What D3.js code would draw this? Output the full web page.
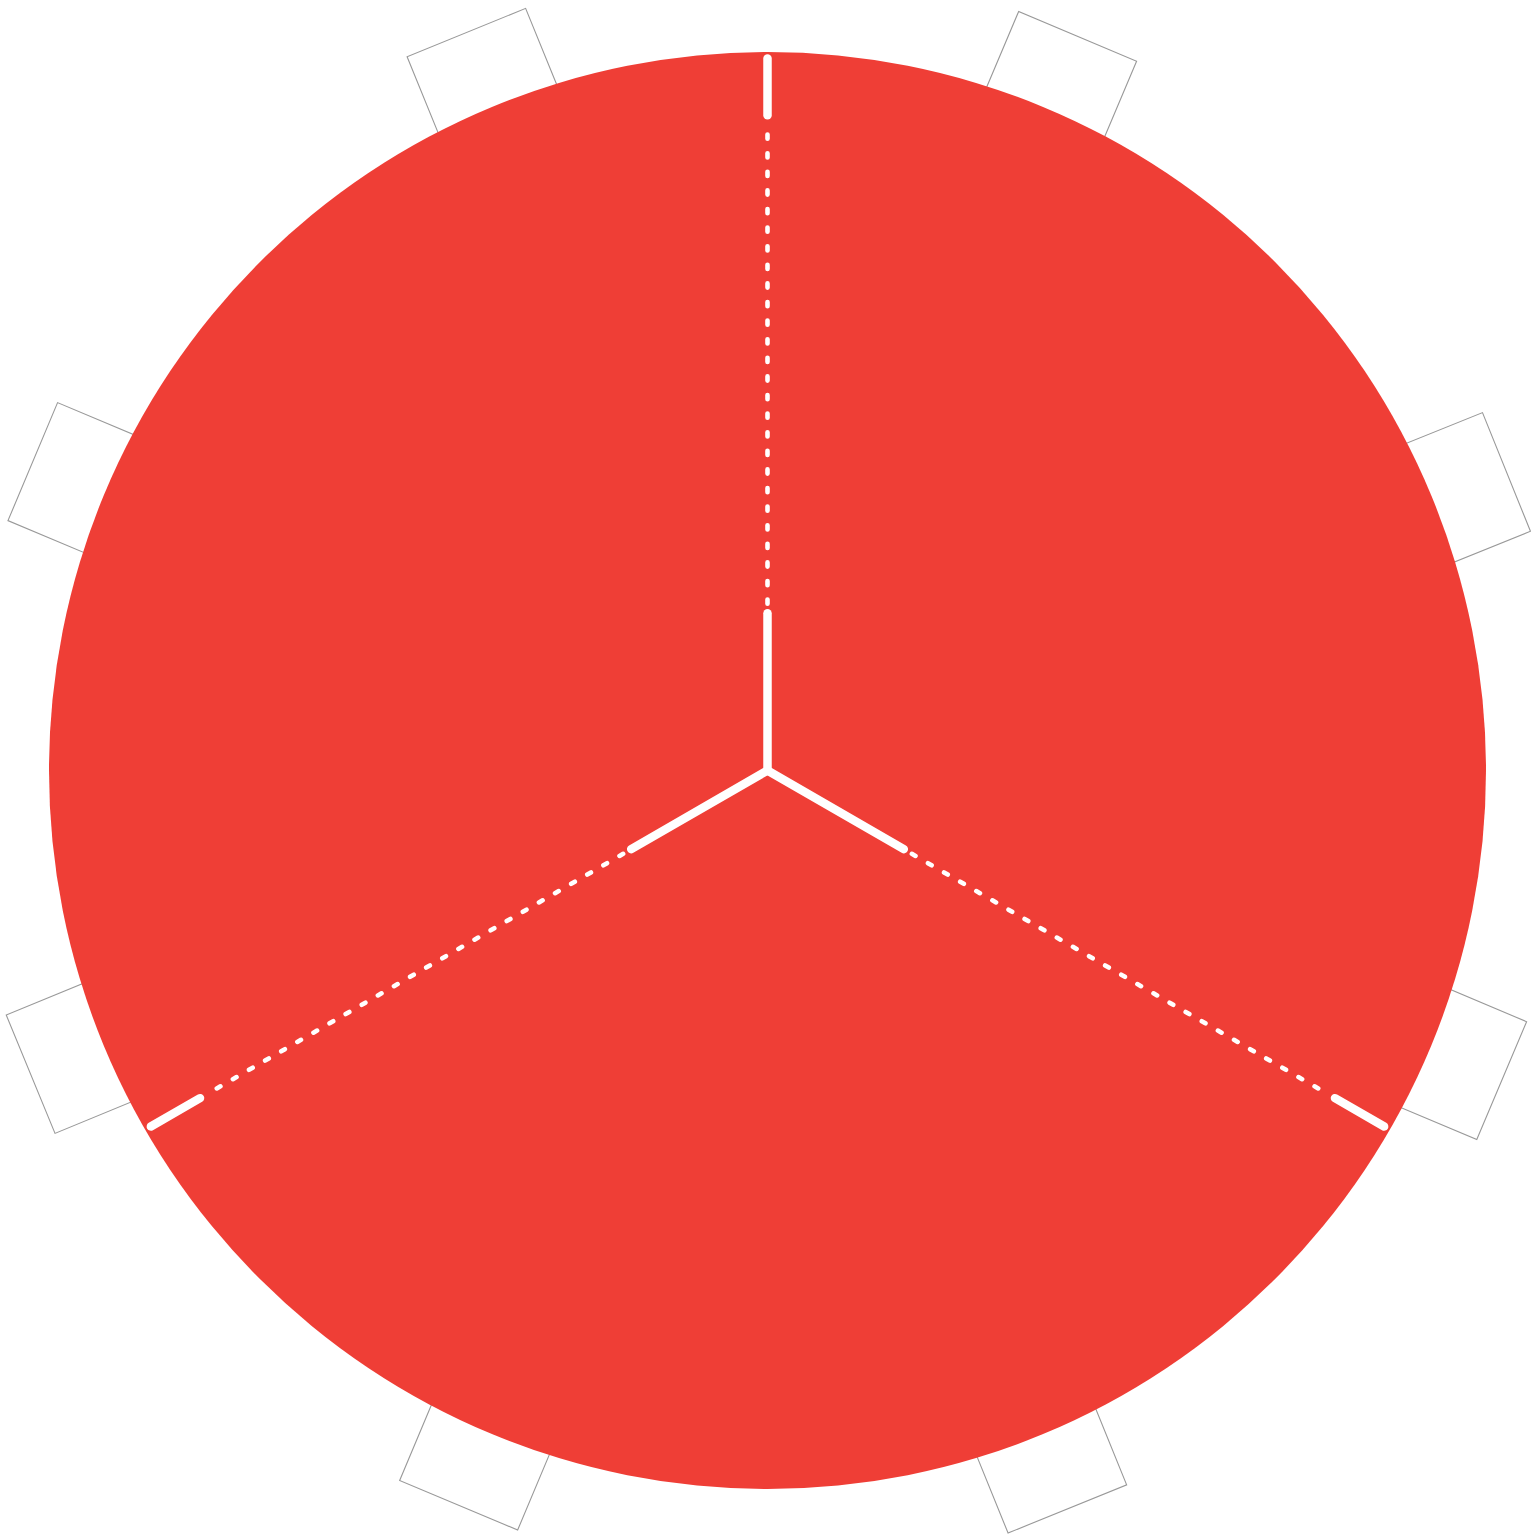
<!DOCTYPE html>
<html>
<head>
<meta charset="utf-8">
<script src="https://cdn.jsdelivr.net/npm/d3@7"></script>
<style>
  html, body { margin: 0; padding: 0; background: #fff; }
  svg { display: block; }
</style>
</head>
<body>
<script>
// table split into three equal parts, eight seats around it
const parts = ["A", "B", "C"];
const partShares = [1, 1, 1];
const seatAngles = [22.9, 68.0, 112.9, 157.9, 202.8, 247.6, 292.8, 337.8];
// divider segments, as fraction of the table radius
const innerSolid = [0, 0.219];
const dotted = [0.232, 0.902];
const outerSolid = [0.912, 0.991];

const width = 1533;
const height = 1534;
const cx = 767.5, cy = 770.5;
const R = 718.5;

const svg = d3.select('body').append('svg').attr('width', width).attr('height', height);
const g = svg.append('g').attr('transform', `translate(${cx},${cy})`);

const r = d3.scaleLinear().domain([0, 1]).range([0, R]);

// seats
const seatW = 128, seatD = 100, seatOuter = 797;
g.selectAll('rect.seat').data(seatAngles).enter().append('rect')
  .attr('class', 'seat')
  .attr('x', -seatW / 2)
  .attr('y', -seatOuter)
  .attr('width', seatW)
  .attr('height', seatD)
  .attr('transform', d => `rotate(${d})`)
  .attr('fill', '#fff')
  .attr('stroke', '#999')
  .attr('stroke-width', 1.1);

// table
g.append('circle').attr('r', r(1)).attr('fill', '#EF3E36');

const pie = d3.pie().sort(null)(partShares);
const dividers = pie.map(p => p.startAngle);

function seg(a, r0, r1) {
  return [[Math.sin(a) * r(r0), -Math.cos(a) * r(r0)], [Math.sin(a) * r(r1), -Math.cos(a) * r(r1)]];
}
const line = d3.line();

dividers.forEach(a => {
  g.append('path').attr('d', line(seg(a, dotted[0], dotted[1])))
    .attr('stroke', '#fff').attr('stroke-width', 4.6)
    .attr('stroke-linecap', 'round').attr('stroke-dasharray', '4.2,14.4')
    .attr('fill', 'none');
  [innerSolid, outerSolid].forEach(s => {
    g.append('path').attr('d', line(seg(a, s[0], s[1])))
      .attr('stroke', '#fff').attr('stroke-width', 8.5)
      .attr('stroke-linecap', 'round').attr('fill', 'none');
  });
});
</script>
</body>
</html>
